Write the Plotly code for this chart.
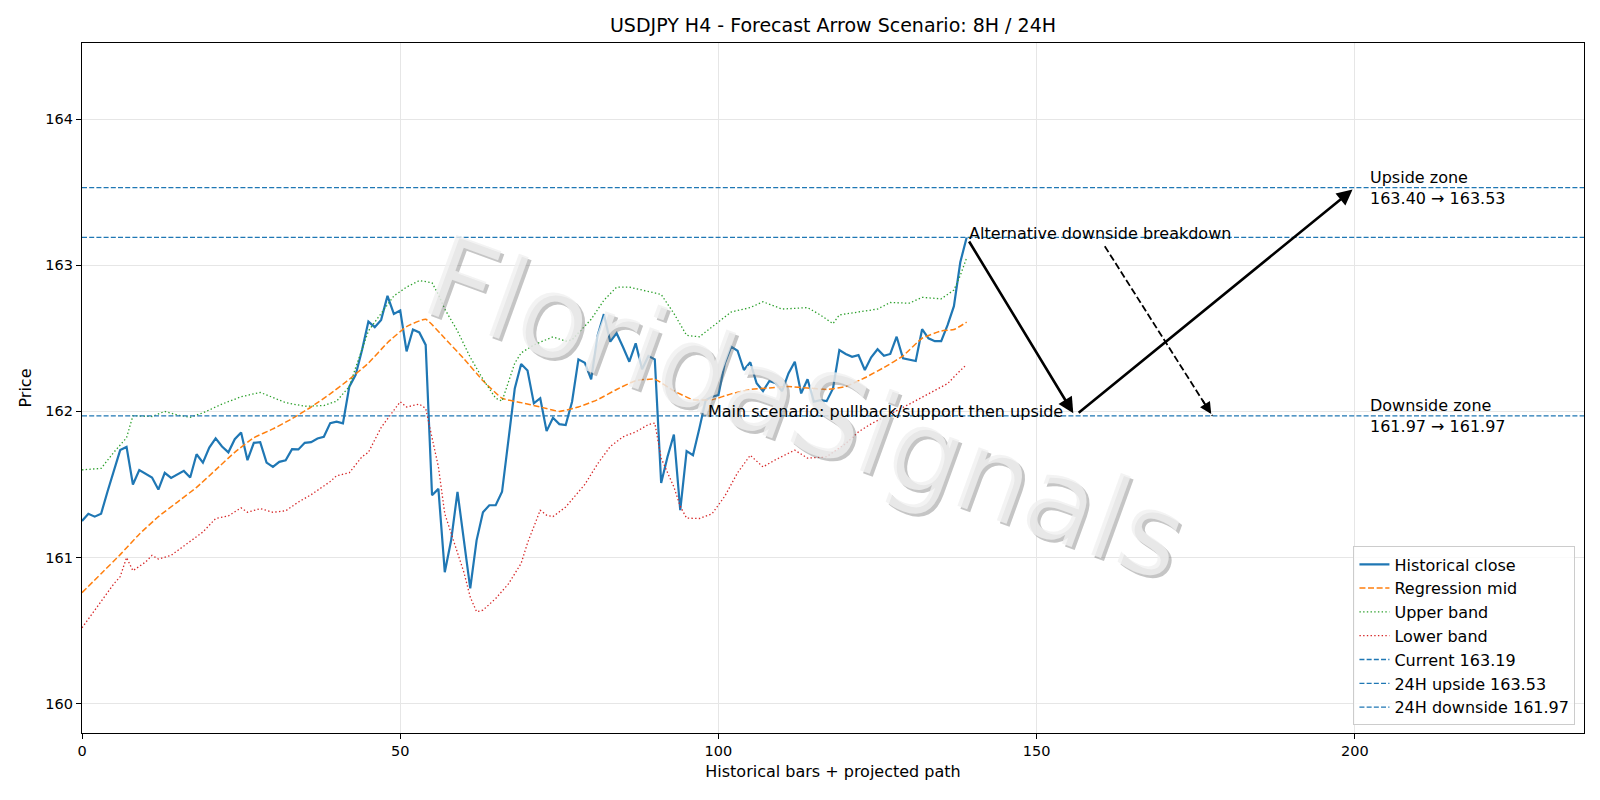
import plotly.graph_objects as go

# ---------------- data ----------------
close = [161.25, 161.30, 161.28, 161.30, 161.45, 161.60, 161.735, 161.757, 161.50, 161.598,
         161.57, 161.548, 161.465, 161.58, 161.545, 161.57, 161.593, 161.548, 161.707, 161.65,
         161.753, 161.815, 161.76, 161.72, 161.81, 161.856, 161.666, 161.785, 161.79, 161.65,
         161.62, 161.655, 161.666, 161.742, 161.74, 161.785, 161.79, 161.815, 161.826, 161.92,
         161.93, 161.918, 162.169, 162.25, 162.42, 162.614, 162.576, 162.626, 162.79, 162.667,
         162.69, 162.41, 162.56, 162.54, 162.455, 161.426, 161.47, 160.90, 161.118, 161.45,
         161.118, 160.79, 161.118, 161.31, 161.358, 161.358, 161.45, 161.826, 162.157, 162.324,
         162.28, 162.055, 162.09, 161.865, 161.956, 161.913, 161.906, 162.066, 162.356, 162.333,
         162.22, 162.516, 162.665, 162.477, 162.535, 162.44, 162.34, 162.466, 162.288, 162.379,
         162.356, 161.51, 161.69, 161.842, 161.324, 161.728, 161.70, 161.883, 162.077, 162.10,
         162.112, 162.329, 162.443, 162.415, 162.283, 162.336, 162.192, 162.139, 162.208, 162.192,
         162.139, 162.26, 162.34, 162.123, 162.22, 162.066, 162.077, 162.07, 162.157, 162.42,
         162.393, 162.374, 162.385, 162.283, 162.37, 162.425, 162.38, 162.393, 162.511, 162.363,
         162.356, 162.345, 162.562, 162.50, 162.48, 162.48, 162.59, 162.72, 163.02, 163.19]
bars = list(range(len(close)))

mid_x = [0, 3, 6, 9, 12, 15, 18, 21, 24, 27, 30, 33, 36, 39, 42, 45, 48, 51, 54, 57, 60, 63, 66, 69,
         72, 75, 78, 81, 84, 87, 90, 93, 96, 99, 102, 105, 108, 111, 114, 117, 120, 123, 126, 129,
         132, 135, 137, 139]
mid_y = [160.76, 160.89, 161.02, 161.16, 161.28, 161.38, 161.48, 161.60, 161.72, 161.82, 161.88,
         161.95, 162.03, 162.12, 162.22, 162.33, 162.47, 162.58, 162.63, 162.50, 162.36, 162.21,
         162.09, 162.06, 162.03, 162.00, 162.03, 162.08, 162.15, 162.21, 162.22, 162.14, 162.08,
         162.08, 162.12, 162.15, 162.16, 162.17, 162.16, 162.15, 162.17, 162.23, 162.30, 162.38,
         162.50, 162.55, 162.56, 162.61]

up_x = [0, 2, 3, 5, 7, 8, 11, 13, 15, 17, 19, 22, 25, 28, 32, 35, 38, 40, 42, 43, 45, 47, 49, 51,
        53, 55, 56, 57, 59, 61, 63, 65, 66, 67, 68, 69, 71, 74, 76, 77, 80, 82, 84, 86, 88, 90, 91,
        93, 95, 97, 99, 102, 105, 107, 110, 114, 116, 118, 119, 122, 125, 127, 130, 132, 135, 137,
        138, 139]
up_y = [161.60, 161.61, 161.61, 161.72, 161.82, 161.97, 161.965, 162.00, 161.975, 161.96, 161.99,
        162.05, 162.10, 162.13, 162.06, 162.035, 162.04, 162.07, 162.17, 162.30, 162.55, 162.67,
        162.79, 162.85, 162.895, 162.88, 162.80, 162.70, 162.55, 162.37, 162.22, 162.09, 162.07,
        162.20, 162.33, 162.40, 162.455, 162.51, 162.48, 162.49, 162.63, 162.76, 162.85, 162.85,
        162.83, 162.81, 162.80, 162.67, 162.52, 162.51, 162.58, 162.68, 162.71, 162.75, 162.70,
        162.71, 162.66, 162.60, 162.66, 162.68, 162.70, 162.745, 162.74, 162.78, 162.77, 162.83,
        162.93, 163.05]

lo_x = [0, 3, 5, 6, 7, 8, 10, 11, 12, 14, 16, 19, 21, 23, 25, 26, 28, 30, 32, 34, 36, 38, 39, 40,
        42, 44, 45, 47, 50, 51, 53, 54, 56, 57, 59, 60, 61, 62, 63, 65, 67, 69, 70, 72, 73, 74, 76,
        79, 81, 83, 85, 87, 89, 90, 91, 93, 94, 95, 97, 99, 101, 103, 105, 107, 109, 112, 114, 117,
        120, 122, 124, 127, 130, 133, 136, 138, 139]
lo_y = [160.52, 160.70, 160.82, 160.87, 161.00, 160.91, 160.97, 161.015, 160.99, 161.015, 161.08,
        161.175, 161.267, 161.285, 161.34, 161.31, 161.335, 161.31, 161.32, 161.38, 161.43, 161.49,
        161.52, 161.56, 161.58, 161.69, 161.72, 161.89, 162.066, 162.03, 162.05, 162.02, 161.62,
        161.30, 161.03, 160.90, 160.73, 160.63, 160.64, 160.72, 160.82, 160.96, 161.10, 161.324,
        161.29, 161.28, 161.346, 161.50, 161.64, 161.76, 161.826, 161.86, 161.91, 161.92, 161.68,
        161.483, 161.35, 161.27, 161.267, 161.30, 161.42, 161.58, 161.70, 161.62, 161.67, 161.735,
        161.68, 161.69, 161.78, 161.86, 161.915, 161.98, 162.05, 162.12, 162.19, 162.28, 162.32]

current_price = 163.19
upside_24h = 163.53
downside_24h = 161.97
upside_zone = (163.40, 163.53)
downside_zone = (161.97, 161.97)

# projected scenario paths (bar index, price)
main_path_x = [139, 156, 200]
main_path_y = [163.19, 161.97, 163.53]
alt_path_x = [160.7, 177.6]
alt_path_y = [163.13, 161.97]

x_range = [0, 236]
y_range = [159.8, 164.52]
x_ticks = [0, 50, 100, 150, 200]
y_ticks = [160, 161, 162, 163, 164]
zone_label_x = 202

# ---------------- style ----------------
C0, C1, C2, C3 = "#1f77b4", "#ff7f0e", "#2ca02c", "#d62728"
FONT = "DejaVu Sans"

fig = go.Figure()
fig.add_trace(go.Scatter(x=bars, y=close, mode="lines", name="Historical close",
                         line=dict(color=C0, width=2.2)))
fig.add_trace(go.Scatter(x=mid_x, y=mid_y, mode="lines", name="Regression mid",
                         line=dict(color=C1, width=1.5, dash="6px,2.6px", shape="spline", smoothing=0.4)))
fig.add_trace(go.Scatter(x=up_x, y=up_y, mode="lines", name="Upper band",
                         line=dict(color=C2, width=1.3, dash="1.4px,2.3px")))
fig.add_trace(go.Scatter(x=lo_x, y=lo_y, mode="lines", name="Lower band",
                         line=dict(color=C3, width=1.3, dash="1.4px,2.3px")))
for val, nm in [(current_price, f"Current {current_price:.2f}"),
                (upside_24h, f"24H upside {upside_24h:.2f}"),
                (downside_24h, f"24H downside {downside_24h:.2f}")]:
    fig.add_trace(go.Scatter(x=x_range, y=[val, val], mode="lines", name=nm,
                             line=dict(color=C0, width=1.3, dash="5px,2.2px")))

# dashed alternative path (line part)
fig.add_trace(go.Scatter(x=alt_path_x, y=alt_path_y, mode="lines", showlegend=False,
                         hoverinfo="skip", line=dict(color="black", width=1.8, dash="7px,3px")))

ann = []
# watermark (shadow + body)
WM_X, WM_Y, WM_SIZE = 0.482, 0.47, 114
ann.append(dict(text="FloridaSignals", xref="paper", yref="paper", x=WM_X, y=WM_Y,
                showarrow=False, textangle=20, xshift=3, yshift=-3,
                font=dict(family=FONT, size=WM_SIZE, color="rgba(110,110,110,0.40)")))
ann.append(dict(text="FloridaSignals", xref="paper", yref="paper", x=WM_X, y=WM_Y,
                showarrow=False, textangle=20,
                font=dict(family=FONT, size=WM_SIZE, color="rgba(240,240,240,0.80)")))

# main scenario arrows
for i in range(len(main_path_x) - 1):
    ann.append(dict(x=main_path_x[i + 1], y=main_path_y[i + 1], ax=main_path_x[i], ay=main_path_y[i],
                    xref="x", yref="y", axref="x", ayref="y", text="", showarrow=True,
                    arrowhead=2, arrowsize=1.2, arrowwidth=2.6, arrowcolor="black",
                    standoff=3, startstandoff=3))
# dashed arrow head
tail_x = alt_path_x[1] - 0.1 * (alt_path_x[1] - alt_path_x[0])
tail_y = alt_path_y[1] - 0.1 * (alt_path_y[1] - alt_path_y[0])
ann.append(dict(x=alt_path_x[1], y=alt_path_y[1], ax=tail_x, ay=tail_y,
                xref="x", yref="y", axref="x", ayref="y", text="", showarrow=True,
                arrowhead=2, arrowsize=1.3, arrowwidth=1.8, arrowcolor="black", standoff=2))

tfont = dict(family=FONT, size=16, color="black")
ann.append(dict(text="Alternative downside breakdown", x=main_path_x[0], y=current_price,
                xref="x", yref="y", xanchor="left", yanchor="bottom", yshift=-8,
                showarrow=False, font=tfont))
ann.append(dict(text="Main scenario: pullback/support then upside", x=154.4, y=downside_24h,
                xref="x", yref="y", xanchor="right", yanchor="bottom", yshift=-7,
                showarrow=False, font=tfont))
ann.append(dict(text=f"Upside zone<br>{upside_zone[0]:.2f} → {upside_zone[1]:.2f}",
                x=zone_label_x, y=upside_24h, xref="x", yref="y", xanchor="left", yanchor="middle",
                align="left", showarrow=False, font=tfont))
ann.append(dict(text=f"Downside zone<br>{downside_zone[0]:.2f} → {downside_zone[1]:.2f}",
                x=zone_label_x, y=downside_24h, xref="x", yref="y", xanchor="left", yanchor="middle",
                align="left", showarrow=False, font=tfont))

axis_common = dict(showline=True, linecolor="black", linewidth=1.1, mirror=True,
                   ticks="outside", ticklen=5, tickwidth=1.1, tickcolor="black",
                   showgrid=True, gridcolor="#e6e6e6", gridwidth=1, zeroline=False,
                   tickfont=dict(family=FONT, size=14.5, color="black"))

fig.update_layout(
    width=1600, height=800,
    margin=dict(l=82, r=16, t=43, b=67),
    paper_bgcolor="white", plot_bgcolor="white",
    font=dict(family=FONT, size=16, color="black"),
    title=dict(text="USDJPY H4 - Forecast Arrow Scenario: 8H / 24H", x=0.5, xref="paper",
               xanchor="center", y=1 - 25.5 / 800, yref="container", yanchor="middle",
               font=dict(family=FONT, size=19, color="black")),
    xaxis=dict(range=x_range, tickvals=x_ticks, title=dict(text="Historical bars + projected path",
               standoff=7, font=dict(family=FONT, size=16)), **axis_common),
    yaxis=dict(range=y_range, tickvals=y_ticks, title=dict(text="Price", standoff=9,
               font=dict(family=FONT, size=16)), **axis_common),
    legend=dict(x=0.9943, y=0.011, xanchor="right", yanchor="bottom",
                bgcolor="rgba(255,255,255,0.8)", bordercolor="#cccccc", borderwidth=1,
                font=dict(family=FONT, size=16), itemwidth=30),
    annotations=ann,
    showlegend=True,
)

fig.write_html("out.html")
